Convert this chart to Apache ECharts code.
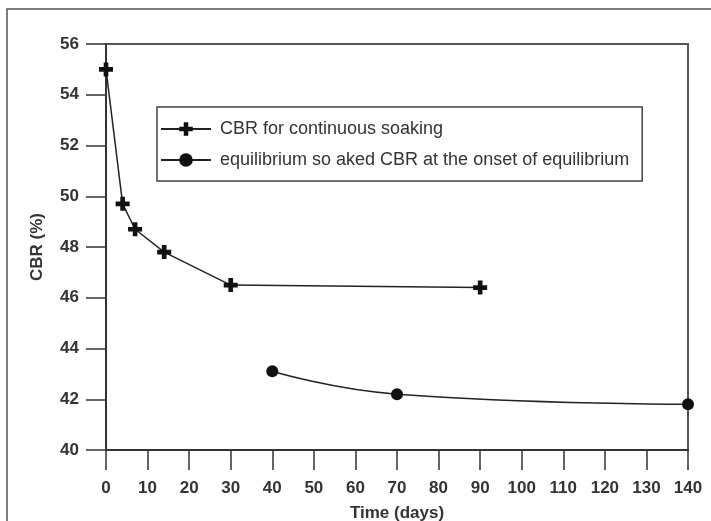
<!DOCTYPE html>
<html>
<head>
<meta charset="utf-8">
<script src="https://cdn.jsdelivr.net/npm/echarts@6/dist/echarts.min.js"></script>
<style>
  html, body { margin: 0; padding: 0; background: #fff; }
  #chart { width: 711px; height: 521px; }
</style>
</head>
<body>
<div id="chart"></div>
<script>
// Soaking time (days) and CBR (%) values
const soakDays = [0, 4, 7, 14, 30, 90];
const soakCBR = [55.0, 49.7, 48.7, 47.8, 46.5, 46.4];
const equilDays = [40, 70, 140];
const equilCBR = [43.1, 42.2, 41.8];
const seriesNames = [
  'CBR for continuous soaking',
  'equilibrium so aked CBR at the onset of equilibrium'
];

// Thick plus-shaped marker
const crossPath = 'path://M-2,-6 L2,-6 L2,-2 L6,-2 L6,2 L2,2 L2,6 L-2,6 L-2,2 L-6,2 L-6,-2 L-2,-2 Z';

const pairs = (xs, ys) => xs.map((x, i) => [x, ys[i]]);

const chart = echarts.init(document.getElementById('chart'), null, { renderer: 'canvas' });

const axisFont = {
  fontFamily: 'Liberation Sans, Arial, sans-serif',
  fontWeight: 'bold',
  fontSize: 17,
  color: '#333'
};

chart.setOption({
  animation: false,
  backgroundColor: '#fff',
  graphic: [{
    type: 'rect',
    shape: { x: 7, y: 9, width: 720, height: 540 },
    style: { fill: 'none', stroke: '#555', lineWidth: 1.5 },
    z: -10
  }],
  grid: {
    left: 106, right: 23, top: 44, bottom: 71,
    containLabel: false,
    outerBoundsMode: 'none',
    show: true,
    borderColor: '#555',
    borderWidth: 2,
    backgroundColor: 'transparent'
  },
  legend: {
    orient: 'vertical',
    left: 157,
    top: 107,
    padding: [13, 13, 12, 3],
    itemGap: 13,
    itemWidth: 50,
    itemHeight: 17,
    borderColor: '#444',
    borderWidth: 1.5,
    textStyle: {
      fontFamily: 'Liberation Sans, Arial, sans-serif',
      fontSize: 18,
      color: '#333',
      padding: [0, 0, 0, 4]
    },
    data: seriesNames
  },
  xAxis: {
    type: 'value',
    min: 0,
    max: 140,
    interval: 10,
    name: 'Time (days)',
    nameLocation: 'middle',
    nameGap: 55,
    nameTextStyle: axisFont,
    axisLine: { lineStyle: { color: '#333', width: 2 } },
    axisTick: { length: 20, lineStyle: { color: '#333', width: 1.5 } },
    axisLabel: Object.assign({ margin: 30 }, axisFont),
    splitLine: { show: false }
  },
  yAxis: {
    type: 'value',
    min: 40,
    max: 56,
    interval: 2,
    name: 'CBR (%)',
    nameLocation: 'middle',
    nameGap: 60,
    nameTextStyle: axisFont,
    axisLine: { show: true, lineStyle: { color: '#333', width: 2 } },
    axisTick: { show: true, length: 20, lineStyle: { color: '#333', width: 1.5 } },
    axisLabel: Object.assign({ margin: 27 }, axisFont),
    splitLine: { show: false }
  },
  series: [
    {
      name: seriesNames[0],
      type: 'line',
      data: pairs(soakDays, soakCBR),
      symbol: crossPath,
      symbolSize: 14,
      itemStyle: { color: '#111' },
      lineStyle: { color: '#222', width: 1.5 },
      z: 3
    },
    {
      name: seriesNames[1],
      type: 'line',
      data: pairs(equilDays, equilCBR),
      smooth: true,
      symbol: 'circle',
      symbolSize: 12,
      itemStyle: { color: '#111' },
      lineStyle: { color: '#222', width: 1.5 },
      z: 3
    }
  ]
});
</script>
</body>
</html>
